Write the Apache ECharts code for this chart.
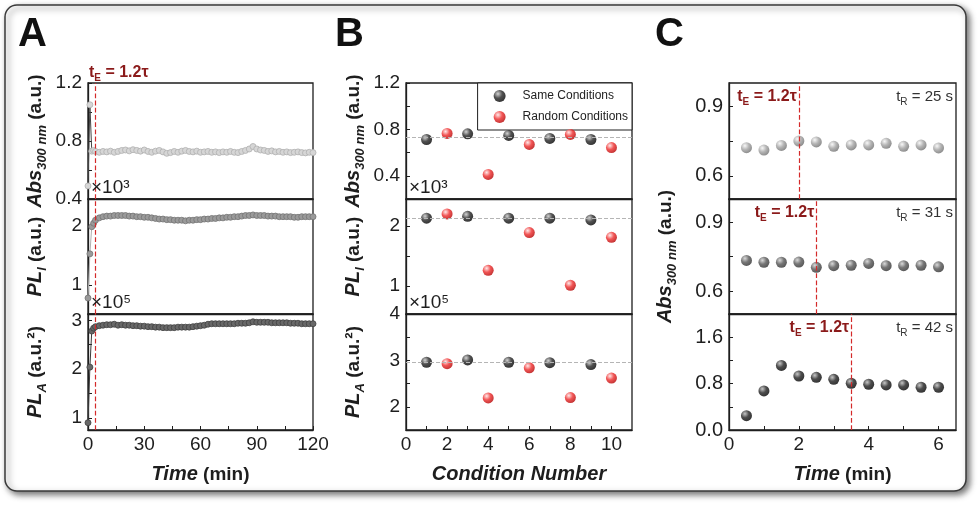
<!DOCTYPE html>
<html>
<head>
<meta charset="utf-8">
<script src="https://cdn.jsdelivr.net/npm/echarts@6/dist/echarts.min.js"></script>
<style>
  html, body { margin: 0; padding: 0; background: #fff; }
  #chart { width: 980px; height: 506px; }
</style>
</head>
<body>
<div id="chart"></div>
<script>
// ---- data ----
// panel A: time in minutes
const timeA = [0, 1, 2, 3, 4, 6, 8, 10, 12, 14, 16, 18, 20, 22, 24, 26, 28, 30, 32, 34, 36, 38, 40,
  42, 44, 46, 48, 50, 52, 54, 56, 58, 60, 62, 64, 66, 68, 70, 72, 74, 76, 78, 80, 82, 84, 86, 88,
  90, 92, 94, 96, 98, 100, 102, 104, 106, 108, 110, 112, 114, 116, 118, 120]
const absA = [0.49, 1.05, 0.73, 0.735, 0.728, 0.722, 0.728, 0.725, 0.730, 0.722, 0.728, 0.735, 0.738,
  0.732, 0.740, 0.735, 0.730, 0.738, 0.728, 0.722, 0.730, 0.735, 0.725, 0.715, 0.720, 0.728, 0.722,
  0.730, 0.735, 0.728, 0.725, 0.730, 0.722, 0.725, 0.728, 0.722, 0.725, 0.720, 0.725, 0.722, 0.728,
  0.722, 0.720, 0.728, 0.735, 0.745, 0.762, 0.745, 0.738, 0.735, 0.728, 0.732, 0.725, 0.728, 0.722,
  0.725, 0.720, 0.722, 0.725, 0.720, 0.718, 0.722, 0.720]
const plIA = [0.78, 1.53, 1.99, 2.05, 2.10, 2.14, 2.16, 2.17, 2.17, 2.18, 2.18, 2.18, 2.18, 2.17, 2.17,
  2.16, 2.16, 2.15, 2.15, 2.14, 2.13, 2.12, 2.12, 2.11, 2.11, 2.10, 2.10, 2.10, 2.09, 2.10, 2.10,
  2.11, 2.11, 2.12, 2.12, 2.13, 2.13, 2.14, 2.14, 2.15, 2.15, 2.16, 2.16, 2.17, 2.18, 2.18, 2.19,
  2.18, 2.18, 2.18, 2.17, 2.17, 2.17, 2.16, 2.16, 2.16, 2.16, 2.15, 2.15, 2.16, 2.16, 2.16, 2.16]
const plAA = [0.90, 2.04, 2.78, 2.84, 2.87, 2.89, 2.90, 2.91, 2.91, 2.92, 2.90, 2.91, 2.90, 2.90, 2.89,
  2.89, 2.88, 2.88, 2.87, 2.87, 2.86, 2.86, 2.85, 2.85, 2.85, 2.85, 2.86, 2.86, 2.86, 2.86, 2.87,
  2.88, 2.89, 2.90, 2.92, 2.93, 2.93, 2.93, 2.93, 2.93, 2.93, 2.93, 2.94, 2.94, 2.94, 2.95, 2.97,
  2.96, 2.96, 2.96, 2.96, 2.95, 2.95, 2.95, 2.95, 2.95, 2.94, 2.94, 2.94, 2.93, 2.93, 2.93, 2.93]
const tEA = 3.7

// panel B: condition number
const condSame = [1, 3, 5, 7, 9]
const condRandom = [2, 4, 6, 8, 10]
const absSame = [0.713, 0.762, 0.748, 0.722, 0.713]
const absRandom = [0.765, 0.412, 0.670, 0.757, 0.643]
const plISame = [2.13, 2.16, 2.13, 2.13, 2.10]
const plIRandom = [2.20, 1.26, 1.89, 1.01, 1.81]
const plASame = [2.96, 3.01, 2.96, 2.95, 2.91]
const plARandom = [2.93, 2.19, 2.84, 2.20, 2.62]

// panel C: time in minutes, three residence times
const timeC = [0.5, 1, 1.5, 2, 2.5, 3, 3.5, 4, 4.5, 5, 5.5, 6]
const absC25 = [0.721, 0.711, 0.731, 0.750, 0.746, 0.727, 0.733, 0.733, 0.740, 0.727, 0.733, 0.720]
const absC31 = [0.733, 0.725, 0.725, 0.726, 0.703, 0.710, 0.712, 0.720, 0.710, 0.710, 0.712, 0.705]
const absC42 = [0.246, 0.674, 1.114, 0.931, 0.909, 0.874, 0.806, 0.789, 0.777, 0.777, 0.737, 0.737]
const tRLabels = ['25 s', '31 s', '42 s']
const tEC = [2.0, 2.5, 3.5]

// ---- layout ----
const FONT = "'Liberation Sans', Arial, sans-serif"
const INK = '#1e1e1e'
const RED = '#d42a2a'
const DARKRED = '#8b1a1a'
const COLS = [{ left: 88, width: 225 }, { left: 406, width: 226 }, { left: 729, width: 227 }]
const ROWS = [{ top: 83, height: 116 }, { top: 199, height: 115 }, { top: 314, height: 116 }]

const zip = (xs, ys) => xs.map((x, i) => [x, ys[i]])
const mean = (a) => a.reduce((s, v) => s + v, 0) / a.length

function ball(hi, mid, lo) {
  return {
    type: 'radial', x: 0.36, y: 0.32, r: 0.72,
    colorStops: [{ offset: 0, color: hi }, { offset: 0.5, color: mid }, { offset: 1, color: lo }],
  }
}

const titleRich = {
  i: { fontFamily: FONT, fontSize: 20, fontWeight: 'bold', fontStyle: 'italic', color: INK, lineHeight: 27 },
  s: { fontFamily: FONT, fontSize: 13, fontWeight: 'bold', fontStyle: 'italic', color: INK, lineHeight: 13, verticalAlign: 'bottom' },
  n: { fontFamily: FONT, fontSize: 19, fontWeight: 'bold', color: INK, lineHeight: 27 },
}
const tERich = {
  t: { fontFamily: FONT, fontSize: 16, fontWeight: 'bold', color: DARKRED, lineHeight: 20 },
  s: { fontFamily: FONT, fontSize: 10, fontWeight: 'bold', color: DARKRED, lineHeight: 10, verticalAlign: 'bottom' },
}
const tRRich = {
  t: { fontFamily: FONT, fontSize: 15, color: '#333', lineHeight: 20 },
  s: { fontFamily: FONT, fontSize: 10, color: '#333', lineHeight: 10, verticalAlign: 'bottom' },
}

const grids = []
const xAxes = []
const yAxes = []
COLS.forEach((c) => {
  ROWS.forEach((r) => {
    grids.push({
      left: c.left, top: r.top, width: c.width, height: r.height,
      show: true, borderColor: INK, borderWidth: 1.3, backgroundColor: 'transparent',
      outerBoundsMode: 'none',
    })
  })
})

function xAx(gi, min, max, labels, ticks, bottom, name) {
  return {
    type: 'value', gridIndex: gi, min, max,
    axisLine: { show: true, lineStyle: { color: INK, width: 1.3 } },
    axisTick: { show: bottom, inside: true, length: 4, customValues: ticks, lineStyle: { color: INK } },
    axisLabel: { show: bottom, customValues: labels, fontFamily: FONT, fontSize: 19, color: INK, margin: 5 },
    splitLine: { show: false },
    name: bottom ? name : '',
    nameLocation: 'middle', nameGap: 31,
    nameTextStyle: { rich: titleRich },
  }
}

function yAx(gi, min, max, labels, ticks, fmt, name, gap, size) {
  return {
    type: 'value', gridIndex: gi, min, max,
    axisLine: { show: true, lineStyle: { color: INK, width: 1.3 } },
    axisTick: { show: true, inside: true, length: 4, customValues: ticks, lineStyle: { color: INK } },
    axisLabel: { customValues: labels, formatter: fmt, fontFamily: FONT, fontSize: size || 19, color: INK, margin: 6 },
    splitLine: { show: false },
    name: name || '', nameLocation: 'middle', nameRotate: 90, nameGap: gap || 40,
    nameTextStyle: { rich: titleRich },
  }
}

const absName = '{i|Abs}{s|300 nm}{n| (a.u.)}'
const plIName = '{i|PL}{s|I}{n| (a.u.)}'
const plAName = '{i|PL}{s|A}{n| (a.u.²)}'
const f1 = (v) => v.toFixed(1)
const f0 = (v) => String(v)

// A
xAxes.push(xAx(0, 0, 120, [], [], false))
xAxes.push(xAx(1, 0, 120, [], [], false))
xAxes.push(xAx(2, 0, 120, [0, 30, 60, 90, 120], [0, 15, 30, 45, 60, 75, 90, 105, 120], true, '{i|Time}{n| (min)}'))
yAxes.push(yAx(0, 0.4, 1.2, [0.4, 0.8, 1.2], [0.4, 0.6, 0.8, 1.0, 1.2], f1, absName, 39))
yAxes.push(yAx(1, 0.51, 2.46, [1, 2], [1, 1.5, 2], f0, plIName, 39))
yAxes.push(yAx(2, 0.75, 3.13, [1, 2, 3], [1, 1.5, 2, 2.5, 3], f0, plAName, 39))
// B
xAxes.push(xAx(3, 0, 11, [], [], false))
xAxes.push(xAx(4, 0, 11, [], [], false))
xAxes.push(xAx(5, 0, 11, [0, 2, 4, 6, 8, 10], [0, 1, 2, 3, 4, 5, 6, 7, 8, 9, 10], true, '{i|Condition Number}'))
yAxes.push(yAx(3, 0.2, 1.2, [0.4, 0.8, 1.2], [0.4, 0.6, 0.8, 1.0, 1.2], f1, absName, 39))
yAxes.push(yAx(4, 0.53, 2.45, [1, 2], [1, 1.5, 2], f0, plIName, 39))
yAxes.push(yAx(5, 1.5, 4, [2, 3, 4], [2, 2.5, 3, 3.5, 4], f0, plAName, 39))
// C
xAxes.push(xAx(6, 0, 6.5, [], [], false))
xAxes.push(xAx(7, 0, 6.5, [], [], false))
xAxes.push(xAx(8, 0, 6.5, [0, 2, 4, 6], [0, 1, 2, 3, 4, 5, 6], true, '{i|Time}{n| (min)}'))
yAxes.push(yAx(6, 0.5, 1.0, [0.6, 0.9], [0.6, 0.75, 0.9], f1, '', 0, 20))
yAxes.push(yAx(7, 0.5, 1.0, [0.6, 0.9], [0.6, 0.75, 0.9], f1, absName, 50, 20))
yAxes.push(yAx(8, 0, 2, [0, 0.8, 1.6], [0, 0.4, 0.8, 1.2, 1.6], f1, '', 0, 20))

function redLine(x) {
  return {
    silent: true, symbol: ['none', 'none'], label: { show: false },
    lineStyle: { color: RED, type: 'dashed', width: 1.2, opacity: 1 },
    emphasis: { disabled: true },
    data: [{ xAxis: x }],
  }
}
function meanLine(y) {
  return {
    silent: true, symbol: ['none', 'none'], label: { show: false },
    lineStyle: { color: '#b5b5b5', type: [4, 2], width: 1 },
    data: [{ yAxis: y }],
  }
}

const series = []
const aStyles = [
  { data: absA, fill: '#d6d6d6', edge: '#b0b0b0', line: '#444' },
  { data: plIA, fill: '#9a9a9a', edge: '#737373', line: '#b0b0b0' },
  { data: plAA, fill: '#686868', edge: '#404040', line: '#3a3a3a' },
]
aStyles.forEach((s, i) => {
  const ser = {
    type: 'line', xAxisIndex: i, yAxisIndex: i,
    data: zip(timeA, s.data),
    symbol: 'circle', symbolSize: 6, showSymbol: true,
    itemStyle: { color: s.fill, borderColor: s.edge, borderWidth: 0.8 },
    lineStyle: { color: s.line, width: 1 },
    markLine: redLine(tEA),
    z: 3,
  }
  if (i === 0) {
    ser.markPoint = {
      symbol: 'circle', symbolSize: 0, silent: true,
      label: { show: true, position: [-6, -20], formatter: '{t|t}{s|E}{t| = 1.2τ}', rich: tERich },
      data: [{ coord: [tEA, 1.2] }],
    }
  }
  series.push(ser)
})

const blackBall = ball('#c8c8c8', '#262626', '#000')
const redBall = ball('#ffe4e4', '#ee2b2b', '#b30000')
const bSets = [[absSame, absRandom], [plISame, plIRandom], [plASame, plARandom]]
bSets.forEach((pair, i) => {
  series.push({
    name: 'Same Conditions', type: 'scatter', xAxisIndex: 3 + i, yAxisIndex: 3 + i,
    data: zip(condSame, pair[0]), symbolSize: 11,
    itemStyle: { color: blackBall },
    markLine: meanLine(mean(pair[0])), z: 4,
  })
  series.push({
    name: 'Random Conditions', type: 'scatter', xAxisIndex: 3 + i, yAxisIndex: 3 + i,
    data: zip(condRandom, pair[1]), symbolSize: 11,
    itemStyle: { color: redBall }, z: 4,
  })
})

const cSets = [
  { data: absC25, color: ball('#f6f6f6', '#a2a2a2', '#6e6e6e'), top: 1.0 },
  { data: absC31, color: ball('#d0d0d0', '#555', '#2e2e2e'), top: 1.0 },
  { data: absC42, color: ball('#b8b8b8', '#202020', '#000'), top: 2.0 },
]
cSets.forEach((s, i) => {
  series.push({
    type: 'scatter', xAxisIndex: 6 + i, yAxisIndex: 6 + i,
    data: zip(timeC, s.data), symbolSize: 11,
    itemStyle: { color: s.color },
    markLine: redLine(tEC[i]),
    markPoint: {
      symbol: 'circle', symbolSize: 0, silent: true,
      data: [
        {
          coord: [tEC[i], s.top],
          label: { show: true, position: [-2, 4], align: 'right', formatter: '{t|t}{s|E}{t| = 1.2τ}', rich: tERich },
        },
        {
          coord: [6.5, s.top],
          label: { show: true, position: [-3, 4], align: 'right', formatter: '{t|t}{s|R}{t| = ' + tRLabels[i] + '}', rich: tRRich },
        },
      ],
    },
    z: 4,
  })
})

function expText(col, row, txt) {
  return {
    type: 'text', left: COLS[col].left + 3, top: ROWS[row].top - 21,
    style: { text: txt, fontFamily: FONT, fontSize: 19, fill: INK },
    z: 10,
  }
}
function letter(x, txt) {
  return {
    type: 'text', left: x, top: 15,
    style: { text: txt, fontFamily: FONT, fontSize: 40, fontWeight: 900, fill: '#111' },
    z: 10,
  }
}

const option = {
  animation: false,
  backgroundColor: '#fff',
  grid: grids,
  xAxis: xAxes,
  yAxis: yAxes,
  legend: {
    data: ['Same Conditions', 'Random Conditions'],
    orient: 'vertical', right: 980 - 632, top: 83,
    icon: 'circle', itemWidth: 12, itemHeight: 12, itemGap: 9,
    padding: [7, 4, 7, 16],
    borderColor: INK, borderWidth: 1, backgroundColor: '#fff',
    textStyle: { fontFamily: FONT, fontSize: 12, color: '#222', padding: [0, 0, 0, 12] },
    selectedMode: false,
  },
  graphic: [
    {
      type: 'rect', z: -10, silent: true,
      shape: { x: 5, y: 5, width: 961, height: 486, r: 12 },
      style: { fill: '#fff', stroke: '#3a3a3a', lineWidth: 1.5, shadowBlur: 6, shadowOffsetX: 3, shadowOffsetY: 3, shadowColor: 'rgba(0,0,0,0.55)' },
    },
    letter(18, 'A'), letter(335, 'B'), letter(655, 'C'),
    expText(0, 1, '×10³'), expText(0, 2, '×10⁵'),
    expText(1, 1, '×10³'), expText(1, 2, '×10⁵'),
  ],
  series,
}

const chart = echarts.init(document.getElementById('chart'))
chart.setOption(option)
</script>
</body>
</html>
